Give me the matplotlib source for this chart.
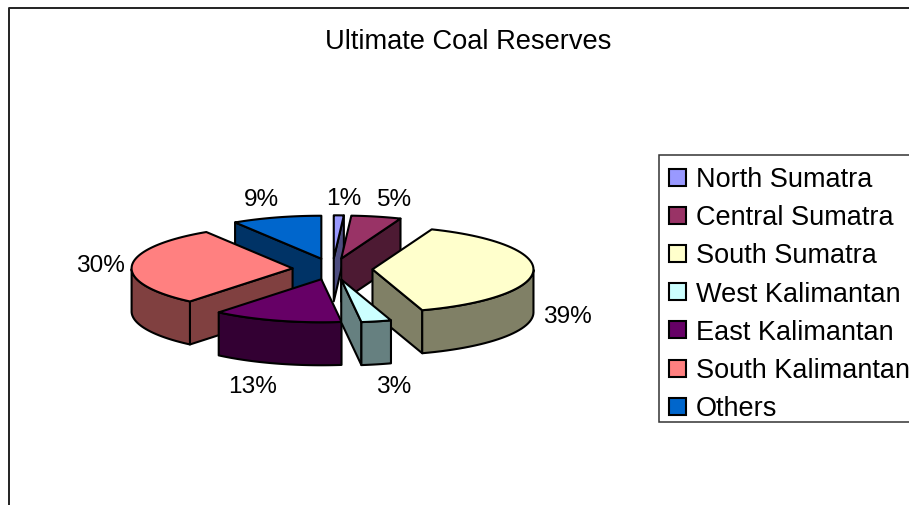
import numpy as np
import matplotlib
matplotlib.use("Agg")
import matplotlib.pyplot as plt
from matplotlib.patches import Polygon, Rectangle

categories = ["North Sumatra", "Central Sumatra", "South Sumatra", "West Kalimantan",
              "East Kalimantan", "South Kalimantan", "Others"]
values = [1, 5, 39, 3, 13, 30, 9]
colors = ["#9999FF", "#993366", "#FFFFCC", "#CCFFFF", "#660066", "#FF8080", "#0066CC"]
label_pos = [(344, 199), (394, 200), (567, 317), (394, 387), (253, 387), (100, 266), (261, 200)]

plt.rcParams['font.family'] = ['Liberation Sans', 'DejaVu Sans']
W, H = 909, 506
fig = plt.figure(figsize=(W / 100, H / 100), dpi=100)
ax = fig.add_axes([0, 0, 1, 1])
ax.set_xlim(0, W)
ax.set_ylim(H, 0)
ax.axis('off')

CX, CY, RX, RY, DEPTH, EXPLODE = 332.5, 270, 161, 43, 43, 40
LW = 1.5


def shade(c):
    return tuple(0.5 * v for v in matplotlib.colors.to_rgb(c))


def add_poly(pts, fc, z):
    ax.add_patch(Polygon(pts, closed=True, fc=fc, ec='black', lw=LW, joinstyle='round', zorder=z))


total = sum(values)
cum = np.cumsum([0] + values) / total * 2 * np.pi
for i, (a, b, col) in enumerate(zip(cum[:-1], cum[1:], colors)):
    m = (a + b) / 2
    ax_, ay_ = CX + EXPLODE * np.sin(m), CY - EXPLODE * RY / RX * np.cos(m)
    # painter's order: rear slices first
    z = 10 + ay_ * 0.1 + i * 0.001
    t = np.linspace(a, b, 60)
    rx_, ry_ = ax_ + RX * np.sin(t), ay_ - RY * np.cos(t)
    apex = np.array([ax_, ay_])
    down = np.array([0, DEPTH])
    # visible cut faces
    for ang, rim, visible in [(a, (rx_[0], ry_[0]), np.sin(a) < 0), (b, (rx_[-1], ry_[-1]), np.sin(b) > 0)]:
        if visible:
            rim = np.array(rim)
            add_poly([apex, rim, rim + down, apex + down], shade(col), z)
    # outer wall: the front-facing arc only
    front = np.cos(t) < 0
    if front.any():
        fx, fy = rx_[front], ry_[front]
        wall = list(zip(fx, fy)) + list(zip(fx[::-1], fy[::-1] + DEPTH))
        add_poly(wall, shade(col), z)
    # top face
    add_poly([apex] + list(zip(rx_, ry_)), col, z + 0.0005)

# chart-area frame
ax.plot([9, 9, W + 2], [H + 2, 8.5, 8.5], color='#222222', lw=1.4, zorder=1, clip_on=False)

ax.text(468.5, 42, "Ultimate Coal Reserves", ha='center', va='center', fontsize=19.6, zorder=30)
for v, (x, y) in zip(values, label_pos):
    ax.text(x, y, f"{v}%", ha='center', va='center', fontsize=17.6, zorder=30)

# legend
ax.add_patch(Rectangle((658.5, 155.5), 260, 267.5, fc='white', ec='#333333', lw=1.1, zorder=20))
for i, (name, col) in enumerate(zip(categories, colors)):
    y = 178 + i * 38.2
    ax.add_patch(Rectangle((668.5, y - 8.5), 17, 17, fc=col, ec='black', lw=1.5, zorder=21))
    ax.text(696, y + 2, name, ha='left', va='center', fontsize=19.5, zorder=22)

fig.savefig("out.png", dpi=100)
